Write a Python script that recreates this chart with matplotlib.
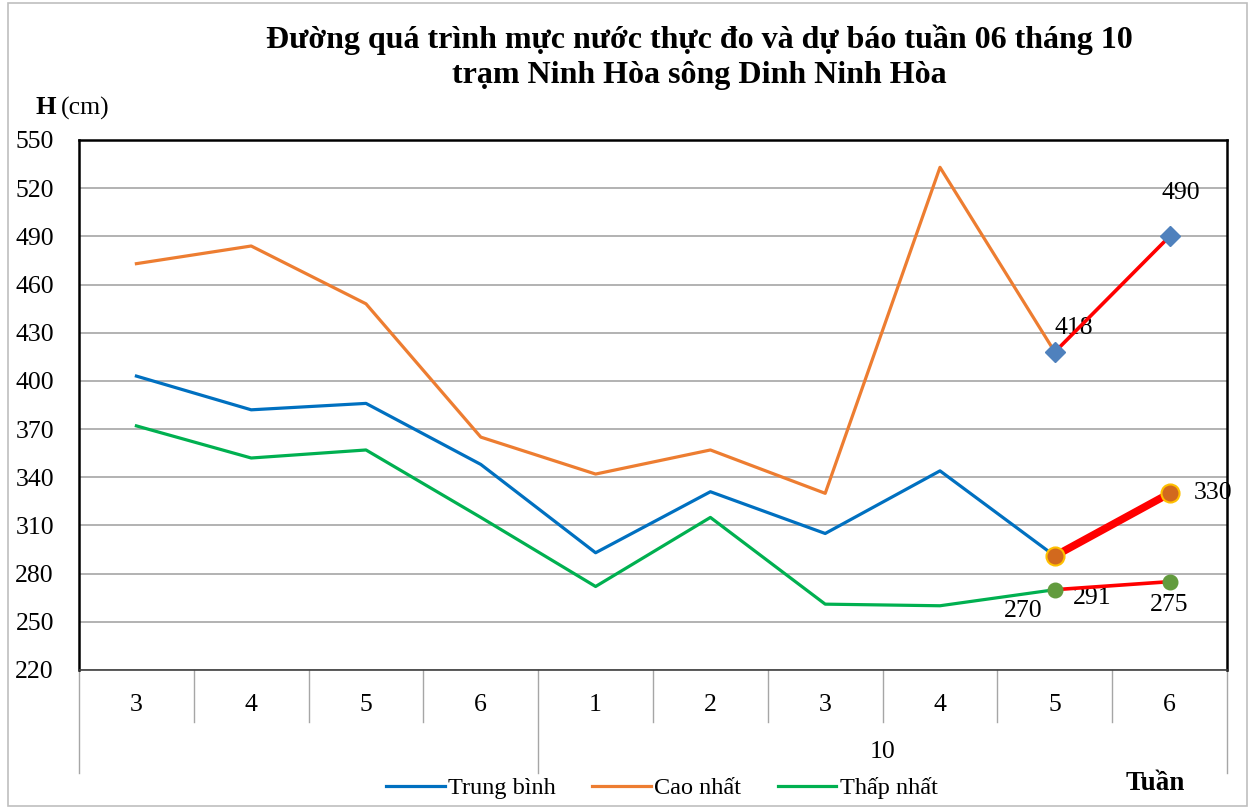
import matplotlib.pyplot as plt
from matplotlib.patches import Rectangle

plt.rcParams['font.family'] = ['Liberation Serif', 'DejaVu Serif']

weeks = ["3", "4", "5", "6", "1", "2", "3", "4", "5", "6"]
months = ["", "10"]
month_sizes = [4, 6]

trung_binh = [403, 382, 386, 348, 293, 331, 305, 344, 291]
cao_nhat = [473, 484, 448, 365, 342, 357, 330, 533, 418]
thap_nhat = [372, 352, 357, 315, 272, 315, 261, 260, 270]

# forecast (week 5 -> week 6)
fc_cao = [418, 490]
fc_tb = [291, 330]
fc_thap = [270, 275]

x = list(range(len(weeks)))
x_obs = x[:len(trung_binh)]
x_fc = x[-2:]

fig = plt.figure(figsize=(12.55, 8.09), dpi=100)
fig.patches.append(Rectangle((0.006, 0.004), 0.988, 0.992, transform=fig.transFigure,
                             fill=False, edgecolor='#bfbfbf', linewidth=1.2))
ax = fig.add_axes([79 / 1255, 1 - 670 / 809, (1227 - 79) / 1255, (670 - 140) / 809])

ax.plot(x_obs, trung_binh, color='#0070C0', lw=2.3, label='Trung bình')
ax.plot(x_obs, cao_nhat, color='#ED7D31', lw=2.3, label='Cao nhất')
ax.plot(x_obs, thap_nhat, color='#00B050', lw=2.3, label='Thấp nhất')

ax.plot(x_fc, fc_cao, color='red', lw=2.6, marker='D', ms=10,
        mfc='#4F81BD', mec='#4F81BD', zorder=5)
ax.plot(x_fc, fc_tb, color='red', lw=5.5, marker='o', ms=13,
        mfc='#D2691E', mec='#FFC000', mew=1.5, zorder=5)
ax.plot(x_fc, fc_thap, color='red', lw=2.6, marker='o', ms=10.5,
        mfc='#629B3E', mec='#629B3E', zorder=5)

lbl = dict(fontsize=18.5, color='black')
ax.annotate(str(fc_cao[1]), (x_fc[1], fc_cao[1]), xytext=(8, 31), textcoords='offset points', ha='center', va='center', **lbl)
ax.annotate(str(fc_cao[0]), (x_fc[0], fc_cao[0]), xytext=(14, 17), textcoords='offset points', ha='center', va='center', **lbl)
ax.annotate(str(fc_tb[1]), (x_fc[1], fc_tb[1]), xytext=(31, 0), textcoords='offset points', ha='center', va='center', **lbl)
ax.annotate(str(fc_tb[0]), (x_fc[0], fc_tb[0]), xytext=(27, -30), textcoords='offset points', ha='center', va='center', **lbl)
ax.annotate(str(fc_thap[0]), (x_fc[0], fc_thap[0]), xytext=(-23, -15), textcoords='offset points', ha='center', va='center', **lbl)
ax.annotate(str(fc_thap[1]), (x_fc[1], fc_thap[1]), xytext=(0, -17), textcoords='offset points', ha='center', va='center', **lbl)

ax.set_ylim(220, 550)
ax.set_yticks(range(220, 551, 30))
ax.set_xlim(-0.5, len(weeks) - 0.5)
ax.set_xticks(x)
ax.set_xticklabels(weeks)
ax.tick_params(axis='x', length=0, pad=17, labelsize=18.5)
ax.tick_params(axis='y', length=0, pad=18, labelsize=18.5)
ax.grid(axis='y', color='#a6a6a6', lw=1.2)
ax.set_axisbelow(True)
for s in ax.spines.values():
    s.set_color('black')
    s.set_linewidth(1.8)
ax.spines['bottom'].set_color('#404040')
ax.spines['bottom'].set_linewidth(1.2)

# category separators (two-level axis)
tr = ax.get_xaxis_transform()
bounds = [-0.5]
for n in month_sizes:
    bounds.append(bounds[-1] + n)
for i in range(len(weeks) + 1):
    xb = i - 0.5
    y0 = -0.194 if xb in bounds else -0.098
    ax.plot([xb, xb], [0, y0], transform=tr, color='#a6a6a6', lw=1, clip_on=False)
for m, a, b in zip(months, bounds[:-1], bounds[1:]):
    ax.text((a + b) / 2, -0.155, m, transform=tr, ha='center', va='center', fontsize=18.5)

fig.text(699 / 1255, 1 - 40 / 809, 'Đường quá trình mực nước thực đo và dự báo tuần 06 tháng 10',
         ha='center', va='center', fontsize=23, fontweight='bold')
fig.text(699 / 1255, 1 - 75 / 809, 'trạm Ninh Hòa sông Dinh Ninh Hòa',
         ha='center', va='center', fontsize=23, fontweight='bold')
fig.text(35 / 1255, 1 - 108 / 809, 'H', ha='left', va='center', fontsize=19, fontweight='bold')
fig.text(61 / 1255, 1 - 108 / 809, '(cm)', ha='left', va='center', fontsize=18.5)
fig.text(1155 / 1255, 1 - 784 / 809, 'Tuần', ha='center', va='center', fontsize=19.5, fontweight='bold')

fig.legend(loc='center', bbox_to_anchor=(662 / 1255, 1 - 788 / 809), ncol=3, frameon=False,
           fontsize=17.5, handlelength=2.4, handletextpad=0.15, columnspacing=1.5)

fig.savefig('out.png', dpi=100)
